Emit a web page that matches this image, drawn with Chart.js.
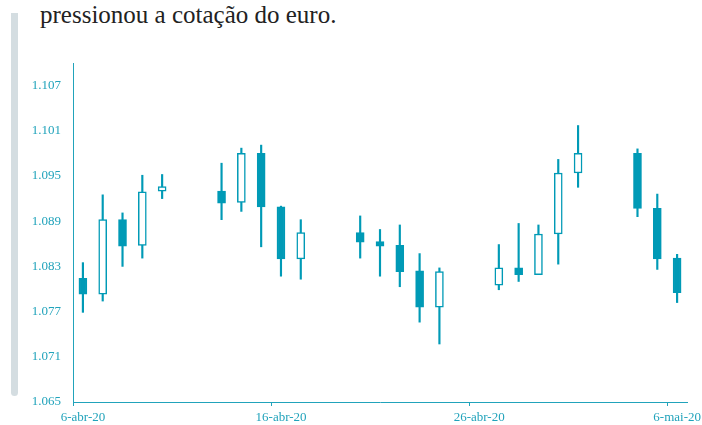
<!DOCTYPE html>
<html lang="pt">
<head>
    <meta charset="UTF-8">
    <title>Cotação do euro</title>
    <script src="https://cdn.jsdelivr.net/npm/chart.js"></script>
    <style>
        body {
            margin: 0;
            width: 702px;
            height: 425px;
            background: #ffffff;
            position: relative;
            overflow: hidden;
        }

        #sideBar {
            position: absolute;
            left: 11px;
            top: 13px;
            width: 7px;
            height: 383px;
            background: #d4dde1;
            border-radius: 0 0 4px 4px;
        }

        #headline {
            position: absolute;
            left: 40px;
            top: 0px;
            font-family: 'Liberation Serif', serif;
            font-size: 25px;
            line-height: 30px;
            color: #222222;
            white-space: nowrap;
        }

        #chartBox {
            position: absolute;
            left: 0;
            top: 0;
            width: 702px;
            height: 425px;
        }
    </style>
</head>
<body>
    <div id="sideBar"></div>
    <div id="headline">pressionou a cotação do euro.</div>
    <div id="chartBox">
        <canvas id="fxChart" width="702" height="425"></canvas>
    </div>

    <script>
        // days counted from 6-abr-20
        const dayIndex = [0, 1, 2, 3, 4, 7, 8, 9, 10, 11, 14, 15, 16, 17, 18, 21, 22, 23, 24, 25, 28, 29, 30];
        const openV  = [1.0814, 1.0793, 1.0892, 1.0858, 1.0930, 1.0930, 1.0915, 1.0980, 1.0909, 1.0840, 1.0875, 1.0863, 1.0858, 1.0824, 1.0776, 1.0805, 1.0828, 1.0819, 1.0873, 1.0954, 1.0980, 1.0907, 1.0841];
        const highV  = [1.0835, 1.0925, 1.0901, 1.0951, 1.0952, 1.0967, 1.0987, 1.0991, 1.0910, 1.0892, 1.0897, 1.0879, 1.0885, 1.0847, 1.0828, 1.0859, 1.0887, 1.0885, 1.0972, 1.1017, 1.0986, 1.0926, 1.0846];
        const lowV   = [1.0769, 1.0784, 1.0830, 1.0841, 1.0920, 1.0892, 1.0903, 1.0856, 1.0817, 1.0813, 1.0841, 1.0817, 1.0803, 1.0756, 1.0727, 1.0799, 1.0810, 1.0819, 1.0833, 1.0935, 1.0896, 1.0826, 1.0782];
        const closeV = [1.0793, 1.0892, 1.0857, 1.0929, 1.0936, 1.0914, 1.0980, 1.0909, 1.0840, 1.0875, 1.0862, 1.0857, 1.0823, 1.0776, 1.0823, 1.0828, 1.0819, 1.0873, 1.0954, 1.0980, 1.0907, 1.0840, 1.0795];

        const xTickDays = [0, 10, 20, 30];
        const xTickLabels = ['6-abr-20', '16-abr-20', '26-abr-20', '6-mai-20'];
        const yTicks = [1.065, 1.071, 1.077, 1.083, 1.089, 1.095, 1.101, 1.107];

        const teal = '#009ab6';
        const tickTeal = '#21a3bb';

        // candle sits in the middle of its day slot
        const wickData = dayIndex.map((d, i) => ({ x: d + 0.5, y: [lowV[i], highV[i]] }));
        const bodyData = dayIndex.map((d, i) => ({ x: d + 0.5, y: [Math.min(openV[i], closeV[i]), Math.max(openV[i], closeV[i])] }));
        const isUp = dayIndex.map((d, i) => closeV[i] > openV[i]);

        const ctx = document.getElementById('fxChart').getContext('2d');

        new Chart(ctx, {
            type: 'bar',
            data: {
                datasets: [
                    {
                        label: 'corpo',
                        data: bodyData,
                        order: 0,
                        barThickness: 8,
                        backgroundColor: c => isUp[c.dataIndex] ? '#ffffff' : teal,
                        borderColor: teal,
                        borderWidth: 1.5,
                        borderSkipped: false,
                        grouped: false
                    },
                    {
                        label: 'sombra',
                        data: wickData,
                        order: 1,
                        barThickness: 1.5,
                        backgroundColor: teal,
                        borderWidth: 0,
                        grouped: false
                    }
                ]
            },
            options: {
                responsive: false,
                animation: false,
                layout: {
                    padding: { top: 63, right: 15, left: 0, bottom: 0 }
                },
                plugins: {
                    legend: { display: false },
                    tooltip: { enabled: false }
                },
                scales: {
                    x: {
                        type: 'linear',
                        min: 0,
                        max: 31,
                        offset: false,
                        afterBuildTicks: s => { s.ticks = xTickDays.map(v => ({ value: v })); },
                        afterFit: s => { s.height = 23; },
                        grid: {
                            offset: false,
                            drawOnChartArea: false,
                            drawTicks: true,
                            tickLength: 4,
                            color: tickTeal
                        },
                        border: { display: true, color: tickTeal, width: 1 },
                        ticks: {
                            autoSkip: false,
                            maxRotation: 0,
                            padding: 4,
                            labelOffset: 10,
                            color: tickTeal,
                            font: { family: 'Liberation Serif', size: 13 },
                            callback: v => xTickLabels[xTickDays.indexOf(v)]
                        }
                    },
                    y: {
                        min: 1.065,
                        max: 1.110,
                        afterBuildTicks: s => { s.ticks = yTicks.map(v => ({ value: v })); },
                        afterFit: s => { s.width = 73; },
                        grid: { display: false, drawTicks: false, tickLength: 0 },
                        border: { display: true, color: tickTeal, width: 1 },
                        ticks: {
                            padding: 12,
                            color: tickTeal,
                            font: { family: 'Liberation Serif', size: 13 },
                            callback: v => v.toFixed(3)
                        }
                    }
                }
            }
        });
    </script>
</body>
</html>
